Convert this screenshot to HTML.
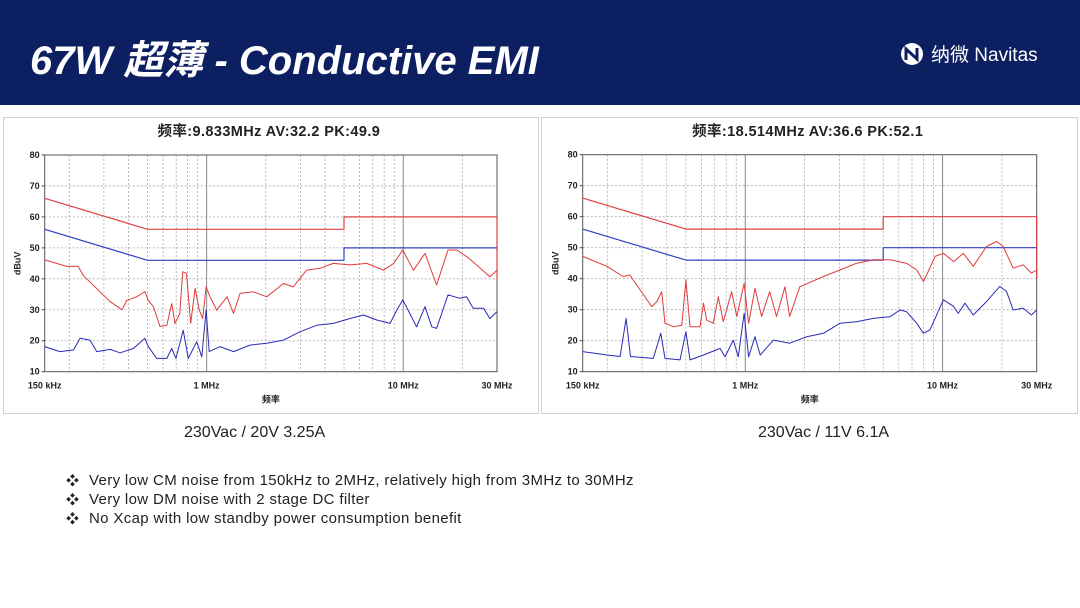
<!DOCTYPE html>
<html><head><meta charset="utf-8">
<style>
body{margin:0;width:1080px;height:608px;background:#fff;overflow:hidden;position:relative;font-family:"Liberation Sans","Noto Sans CJK SC",sans-serif;}
#hdr{position:absolute;left:0;top:0;width:1080px;height:105px;background:#0c1f61;}
#title{position:absolute;left:30px;top:28px;color:#fff;font-size:40px;font-style:italic;font-weight:bold;white-space:nowrap;}
#logo{position:absolute;left:900px;top:40px;color:#fff;font-size:19px;white-space:nowrap;display:flex;align-items:center;}
.panel{position:absolute;top:117px;height:295px;border:1px solid #d0d0d0;background:#fff;}
.cap{position:absolute;font-size:16px;color:#222;white-space:nowrap;}
.bl{position:absolute;left:66px;font-size:15px;letter-spacing:0.35px;color:#222;white-space:nowrap;}
.bl span{display:inline-block;width:23px;letter-spacing:0;font-size:13px;}
</style></head><body>
<div id="hdr">
<div id="title">67W 超薄 - Conductive EMI</div>
<div id="logo"><svg width="24" height="24" viewBox="0 0 24 24" style="margin-right:7px"><circle cx="12" cy="12" r="11" fill="#fff"/><path d="M6 18 L6 7 L17 17 L17 6" stroke="#0c1f61" stroke-width="3" fill="none"/></svg>纳微 Navitas</div>
</div>
<div class="panel" style="left:3px;width:534px"></div>
<div class="panel" style="left:541px;width:535px"></div>
<svg id="chart" width="1080" height="608" style="position:absolute;left:0;top:0"></svg>
<div class="cap" style="left:184px;top:424px">230Vac / 20V 3.25A</div>
<div class="cap" style="left:758px;top:424px">230Vac / 11V 6.1A</div>
<div class="bl" style="top:470px"><span>❖</span>Very low CM noise from 150kHz to 2MHz, relatively high from 3MHz to 30MHz</div>
<div class="bl" style="top:489px"><span>❖</span>Very low DM noise with 2 stage DC filter</div>
<div class="bl" style="top:508px"><span>❖</span>No Xcap with low standby power consumption benefit</div>
<script>
const yTicks=[10,20,30,40,50,60,70,80];
const xTickFreqs=[0.15,1,10,30];
const xTickLabels=["150 kHz","1 MHz","10 MHz","30 MHz"];
const minorFreqs=[0.2,0.3,0.4,0.5,0.6,0.7,0.8,0.9,2,3,4,5,6,7,8,9,20];
const qpLimitF=[0.15,0.5,5,5,30,30];
const qpLimitV=[66,56,56,60,60,40];
const avLimitF=[0.15,0.5,5,5,30];
const avLimitV=[56,46,46,50,50];
const leftTitle="频率:9.833MHz  AV:32.2  PK:49.9";
const rightTitle="频率:18.514MHz  AV:36.6  PK:52.1";
const leftPkF=[0.15,0.194,0.222,0.236,0.287,0.323,0.371,0.392,0.44,0.485,0.505,0.536,0.579,0.627,0.664,0.69,0.73,0.755,0.79,0.83,0.873,0.918,0.955,0.993,1.04,1.125,1.27,1.37,1.479,1.73,2.02,2.46,2.76,3.22,3.77,4.41,5.37,6.53,7.94,8.93,9.95,11.27,12.9,14.78,16.9,18.7,21,23.6,27.6,30];
const leftPkV=[46.1,44,44,41,35.8,32.6,30,33,34.2,35.9,33,31,24.6,25,32,25.6,28.8,42.3,41.8,25.6,36.9,29.9,27.2,37.4,34.2,29.9,34.2,28.8,35.3,35.8,34.2,38.5,37.4,42.8,43.4,45,44.5,45,42.8,45,49.3,42.8,48.2,38,49.3,49.3,47.2,44.5,40.7,42.8];
const leftAvF=[0.15,0.179,0.21,0.227,0.255,0.276,0.323,0.363,0.424,0.485,0.505,0.557,0.627,0.664,0.698,0.76,0.807,0.89,0.945,0.993,1.03,1.17,1.37,1.66,2.02,2.46,2.98,3.63,4.41,5.37,6.28,7.34,8.58,9.28,9.95,10.8,11.7,12.9,13.97,14.78,16.9,19.4,21,22.7,25.6,27.6,30];
const leftAvV=[18.1,16.5,17,20.8,20.2,16.5,17.2,16.1,17.5,20.8,18.1,14.3,14.3,17.5,14.3,23.4,14.3,19.7,14.8,29.9,16.5,18.1,16.5,18.6,19.2,20.2,22.9,25,25.6,27.2,28.3,26.7,25.6,29.9,33.2,28.8,24.5,31,24.5,24,34.8,33.7,34.2,30.5,30.5,27.2,29.4];
const rightPkF=[0.15,0.199,0.24,0.26,0.293,0.336,0.356,0.377,0.392,0.433,0.477,0.5,0.525,0.59,0.614,0.637,0.689,0.73,0.774,0.853,0.906,0.986,1.04,1.12,1.21,1.33,1.44,1.59,1.68,1.89,2.49,3.02,3.67,4.45,5.41,6.56,7.4,8.0,8.3,9.17,10.1,11.4,12.74,14.3,16.7,18.8,20.3,22.8,25.6,28.2,30];
const rightPkV=[47.2,44,40.7,41.2,36.4,31,32.6,35.8,25.6,24.5,25,39.6,24.5,24.5,32.1,26.7,25.6,34.2,26.1,35.8,27.8,38.5,25.6,36.9,27.8,35.8,27.8,37.4,27.8,37.4,40.7,42.8,45,46.1,46.1,45,42.8,39.1,41.2,47.2,48.2,45.5,48.2,44,50.4,52,50.4,43.4,44.5,41.8,42.8];
const rightAvF=[0.15,0.199,0.232,0.249,0.262,0.342,0.373,0.392,0.467,0.5,0.525,0.614,0.745,0.789,0.87,0.922,0.986,1.04,1.12,1.19,1.39,1.68,2.05,2.49,3.02,3.67,4.45,5.41,6.08,6.56,7.4,8.0,8.64,10.1,11.4,12.0,13.0,14.3,16.7,19.5,21.1,22.8,25.6,28.2,30];
const rightAvV=[16.5,15.4,14.9,27.2,14.9,14.3,22.4,14.3,13.8,22.9,13.8,15.4,17.5,14.8,20.2,14.8,28.8,14.8,21.3,15.4,20.2,19.2,21.3,22.4,25.6,26.1,27.2,27.7,29.9,29.4,25.6,22.4,23.5,33.2,31,28.8,32.1,28.3,32.6,37.5,35.9,29.9,30.5,28.3,29.9];

const svg=document.getElementById('chart');
const NS='http://www.w3.org/2000/svg';
function mk(tag,attrs,parent){const e=document.createElementNS(NS,tag);for(const k in attrs)e.setAttribute(k,attrs[k]);(parent||svg).appendChild(e);return e;}
function drawChart(x0,x1,y0,y1,title,pkF,pkV,avF,avV,side){
  const g=mk('g',{});
  
  
  const lmin=Math.log10(0.15),lmax=Math.log10(30);
  const X=f=>x0+(Math.log10(f)-lmin)/(lmax-lmin)*(x1-x0);
  const Y=v=>y1-(v-10)/70*(y1-y0);
  const cx=(x0+x1)/2;
  const t=mk('text',{x:cx-2,y:136,'text-anchor':'middle','font-size':'14.5','font-weight':'bold',fill:'#222','xml:space':'preserve','letter-spacing':'0.4'},g);t.textContent=title;
  
  yTicks.forEach(v=>{
    if(v>10&&v<80){const l=mk('line',{x1:x0,x2:x1,y1:Y(v),y2:Y(v),stroke:'#aaa','stroke-width':0.8,'stroke-dasharray':'2,2'},g);}
    const tx=mk('text',{x:x0-5,y:Y(v)+3,'text-anchor':'end','font-size':'9','font-weight':'bold',fill:'#222'},g);tx.textContent=v;
    
    mk('line',{x1:x0-3,x2:x0,y1:Y(v),y2:Y(v),stroke:'#444'},g);
  });
  minorFreqs.forEach(f=>{const l=mk('line',{x1:X(f),x2:X(f),y1:y0,y2:y1,stroke:'#aaa','stroke-width':0.8,'stroke-dasharray':'2,2'},g);});
  [1,10].forEach(f=>mk('line',{x1:X(f),x2:X(f),y1:y0,y2:y1,stroke:'#888','stroke-width':1},g));
  xTickFreqs.forEach((f,i)=>{const tx=mk('text',{x:X(f),y:y1+17,'text-anchor':'middle','font-size':'9','font-weight':'bold',fill:'#222'},g);tx.textContent=xTickLabels[i];
    });
  const r=mk('rect',{x:x0,y:y0,width:x1-x0,height:y1-y0,fill:'none',stroke:'#555','stroke-width':1},g);
  
  const xl=mk('text',{x:cx,y:y1+31,'text-anchor':'middle','font-size':'9','font-weight':'bold',fill:'#222'},g);xl.textContent='频率';
  
  const yl=mk('text',{x:0,y:0,transform:`translate(${x0-24},${(y0+y1)/2}) rotate(-90)`,'text-anchor':'middle','font-size':'9','font-weight':'bold',fill:'#222'},g);yl.textContent='dBuV';
  
  const line=(F,V,col,name,w)=>{const p=mk('polyline',{points:F.map((f,i)=>X(f).toFixed(1)+','+Y(V[i]).toFixed(1)).join(' '),fill:'none',stroke:col,'stroke-width':w,'stroke-linejoin':'round'},g);
    };
  line(qpLimitF,qpLimitV,'#e04040','qp-limit-line',1.2);
  line(avLimitF,avLimitV,'#3040c0','av-limit-line',1.2);
  line(pkF,pkV,'#e03a3a','peak-trace',1);
  line(avF,avV,'#2a2ab8','average-trace',1);
}
drawChart(44.7,497,155,371.7,leftTitle,leftPkF,leftPkV,leftAvF,leftAvV,'left');
drawChart(582.7,1036.7,154.7,371.7,rightTitle,rightPkF,rightPkV,rightAvF,rightAvV,'right');
</script>
</body></html>
